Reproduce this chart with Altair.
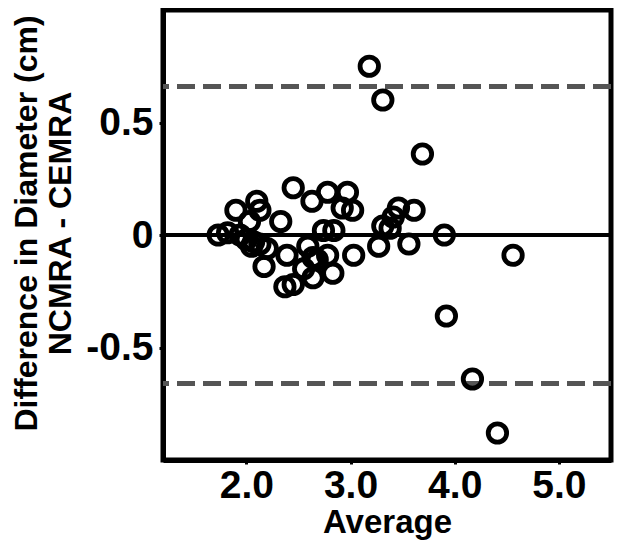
import altair as alt
import pandas as pd

avg = [1.73, 1.82, 1.90, 1.94, 2.00, 2.03, 2.07, 2.10, 2.13, 2.13, 2.17, 2.33, 2.37, 2.45,
       2.39, 2.45, 2.59, 2.55, 2.63, 2.64, 2.64, 2.68, 2.74, 2.78, 2.78, 2.83, 2.84, 2.92,
       2.97, 3.02, 3.03, 3.18, 3.27, 3.31, 3.31, 3.38, 3.41, 3.46, 3.56, 3.61, 3.69, 3.90,
       3.92, 4.17, 4.41, 4.56, 2.05, 2.20]
diff = [0.00, 0.01, 0.11, 0.00, -0.02, 0.06, -0.03, 0.15, 0.11, -0.04, -0.14, 0.06, -0.23, -0.22,
        -0.09, 0.21, -0.05, -0.15, 0.15, -0.10, -0.19, -0.11, 0.02, 0.19, -0.09, -0.17, 0.02, 0.12,
        0.19, 0.11, -0.09, 0.75, -0.05, 0.60, 0.04, 0.03, 0.08, 0.12, -0.04, 0.11, 0.36, 0.00,
        -0.36, -0.64, -0.88, -0.09, -0.05, -0.06]
limits = [0.66, -0.66]
mean_line = [0.0]
x_ticks = [2, 3, 4, 5]
y_ticks = [-0.5, 0, 0.5]

df = pd.DataFrame({"avg": avg, "diff": diff})
lim_df = pd.DataFrame({"y": limits})
mean_df = pd.DataFrame({"y": mean_line})

FONT = "Liberation Sans"

xs = alt.Scale(domain=[1.2, 5.5], nice=False, zero=False)
ys = alt.Scale(domain=[-1.0, 1.0], nice=False, zero=False)

points = alt.Chart(df).mark_point(
    shape="circle", filled=False, size=340, strokeWidth=4.8, color="black", opacity=1
).encode(
    x=alt.X("avg:Q", scale=xs, title="Average",
            axis=alt.Axis(values=x_ticks, format=".1f", grid=False, labelPadding=2,
                          titleFontSize=33)),
    y=alt.Y("diff:Q", scale=ys, title=["Difference in Diameter (cm)", "NCMRA - CEMRA"],
            axis=alt.Axis(values=y_ticks, grid=False, titleY=213, titleFontSize=32,
                          labelExpr="datum.value == 0 ? '0' : (datum.value < 0 ? '-' : '') + format(abs(datum.value), '.1f')")),
)

limit_lines = alt.Chart(lim_df).mark_rule(
    color="#555555", strokeWidth=5, strokeDash=[18, 8]
).encode(y=alt.Y("y:Q", scale=ys))

zero_line = alt.Chart(mean_df).mark_rule(
    color="black", strokeWidth=4
).encode(y=alt.Y("y:Q", scale=ys))

chart = alt.layer(limit_lines, zero_line, points).properties(
    width=448, height=450,
    autosize=alt.AutoSizeParams(type="none"),
    padding={"left": 155, "top": 2, "right": 5, "bottom": 90},
).configure_view(
    stroke="black", strokeWidth=5
).configure_axis(
    labelFont=FONT, labelFontWeight="bold", labelFontSize=39, labelColor="black",
    titleFont=FONT, titleFontWeight="bold", titleColor="black",
    domainColor="black", domainWidth=5, tickColor="black", tickWidth=3, tickSize=4,
    labelPadding=6,
).configure_axisX(
    titlePadding=1,
).configure_axisY(
    titlePadding=8, titleLineHeight=34,
)

chart.save("out.html", embed_options={"renderer": "svg", "actions": False})
